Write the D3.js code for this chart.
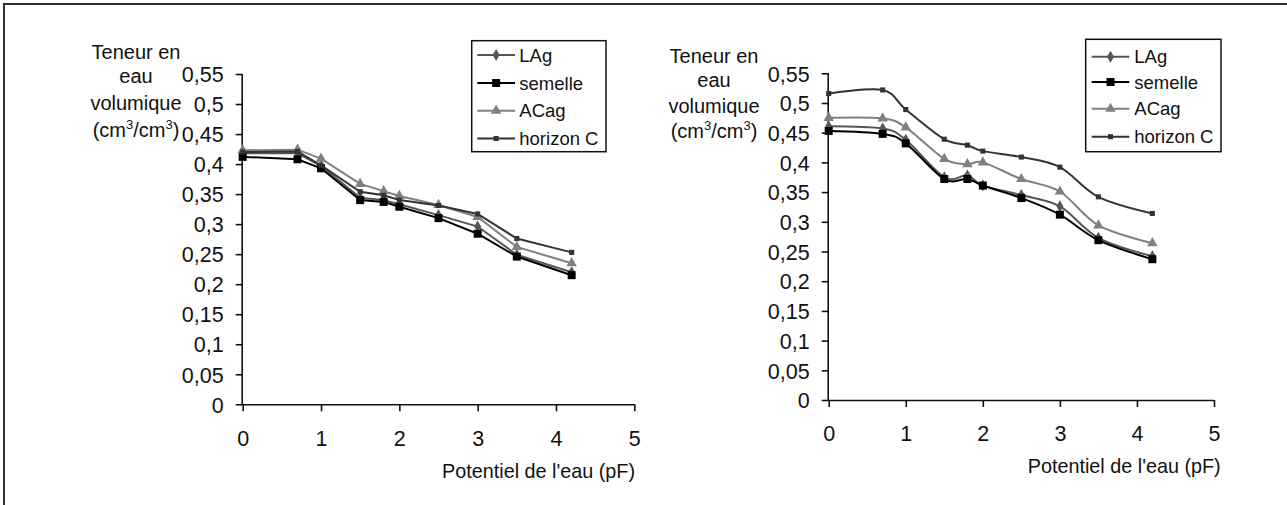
<!DOCTYPE html>
<html>
<head>
<meta charset="utf-8">
<script src="https://cdn.jsdelivr.net/npm/d3@7"></script>
<style>
  html, body { margin: 0; padding: 0; background: #fff; }
  svg { display: block; font-family: "Liberation Sans", Arial, sans-serif; }
</style>
</head>
<body>
<svg id="chart" width="1287" height="505"></svg>
<script>
// ---------- DATA ----------
const pF = [0, 0.7, 1, 1.5, 1.8, 2, 2.5, 3, 3.5, 4.2];
const seriesNames = ["LAg", "semelle", "ACag", "horizon C"];

// Left panel
const leftLAg      = [0.418, 0.418, 0.397, 0.344, 0.340, 0.333, 0.315, 0.296, 0.249, 0.220];
const leftSemelle  = [0.412, 0.408, 0.393, 0.340, 0.337, 0.329, 0.310, 0.284, 0.246, 0.215];
const leftACag     = [0.423, 0.424, 0.409, 0.367, 0.355, 0.347, 0.332, 0.312, 0.262, 0.235];
const leftHorizonC = [0.420, 0.421, 0.398, 0.354, 0.348, 0.340, 0.331, 0.317, 0.276, 0.253];

// Right panel
const rightLAg      = [0.461, 0.457, 0.438, 0.375, 0.378, 0.361, 0.345, 0.326, 0.273, 0.242];
const rightSemelle  = [0.453, 0.448, 0.432, 0.372, 0.372, 0.361, 0.340, 0.312, 0.269, 0.237];
const rightACag     = [0.475, 0.474, 0.459, 0.406, 0.397, 0.400, 0.372, 0.351, 0.294, 0.264];
const rightHorizonC = [0.516, 0.522, 0.489, 0.439, 0.429, 0.419, 0.409, 0.392, 0.342, 0.314];

const yTicks = [0, 0.05, 0.1, 0.15, 0.2, 0.25, 0.3, 0.35, 0.4, 0.45, 0.5, 0.55];
const yTickLabels = ["0", "0,05", "0,1", "0,15", "0,2", "0,25", "0,3", "0,35", "0,4", "0,45", "0,5", "0,55"];
const xTicks = [0, 1, 2, 3, 4, 5];
const xTickLabels = ["0", "1", "2", "3", "4", "5"];
const xTitle = "Potentiel de l'eau (pF)";

// ---------- STYLE ----------
const styles = {
  "LAg":       { color: "#555555", marker: "diamond",  size: 42 },
  "semelle":   { color: "#000000", marker: "square",   size: 64 },
  "ACag":      { color: "#808080", marker: "triangle", size: 48 },
  "horizon C": { color: "#333333", marker: "small",    size: 26 }
};
const symbolType = { diamond: d3.symbolDiamond, square: d3.symbolSquare, triangle: d3.symbolTriangle, small: d3.symbolSquare };

const svg = d3.select("#chart");

// outer frame (only top and left edges visible in the view)
svg.append("rect").attr("x", 4).attr("y", 4).attr("width", 1400).attr("height", 600)
  .attr("fill", "none").attr("stroke", "#333").attr("stroke-width", 2);

function drawPanel(cfg) {
  const x = d3.scaleLinear().domain([0, 5]).range([cfg.x0, cfg.x5]);
  const y = d3.scaleLinear().domain([0, 0.55]).range([cfg.y0, cfg.y55]);
  const g = svg.append("g");

  // Y axis
  const yAxis = d3.axisLeft(y).tickValues(yTicks).tickSize(7).tickPadding(12)
    .tickFormat((d, i) => yTickLabels[i]);
  const ya = g.append("g").attr("transform", `translate(${cfg.x0},0)`).call(yAxis);
  ya.select(".domain").attr("stroke", "#111").attr("stroke-width", 1.6).attr("d", `M-0.5,${cfg.y0}V${cfg.y55}`);
  ya.selectAll(".tick line").attr("stroke", "#111").attr("stroke-width", 1.6);
  ya.selectAll(".tick text").attr("font-size", 21.5).attr("fill", "#111")
    .attr("font-family", "'Liberation Sans', Arial, sans-serif").attr("dy", "0.36em");

  // X axis
  const xAxis = d3.axisBottom(x).tickValues(xTicks).tickSize(7).tickPadding(0)
    .tickFormat((d, i) => xTickLabels[i]);
  const xa = g.append("g").attr("transform", `translate(0,${cfg.y0})`).call(xAxis);
  xa.select(".domain").attr("stroke", "#111").attr("stroke-width", 1.6).attr("d", `M${cfg.x0},0.5H${cfg.x5}`);
  xa.selectAll(".tick line").attr("stroke", "#111").attr("stroke-width", 1.6);
  xa.selectAll(".tick text").attr("font-size", 21.5).attr("fill", "#111")
    .attr("font-family", "'Liberation Sans', Arial, sans-serif")
    .attr("y", cfg.xLabelBase).attr("dy", 0);

  // X title
  g.append("text").attr("x", cfg.xTitleRight).attr("y", cfg.xTitleBase)
    .attr("text-anchor", "end").attr("font-size", 19.8).attr("fill", "#111").text(xTitle);

  // Y title (multi-line)
  const yt = g.append("text").attr("text-anchor", "middle").attr("font-size", 20).attr("fill", "#111");
  const lines = ["Teneur en", "eau", "volumique"];
  lines.forEach((t, i) => {
    yt.append("tspan").attr("x", cfg.yTitleX).attr("y", cfg.yTitleBases[i]).text(t);
  });
  const last = g.append("text").attr("text-anchor", "middle").attr("font-size", 20).attr("fill", "#111")
    .attr("x", cfg.yTitleX).attr("y", cfg.yTitleBases[3]);
  last.append("tspan").text("(cm");
  last.append("tspan").attr("font-size", 13).attr("dy", -8).text("3");
  last.append("tspan").attr("dy", 8).text("/cm");
  last.append("tspan").attr("font-size", 13).attr("dy", -8).text("3");
  last.append("tspan").attr("dy", 8).text(")");

  // Series
  const line = d3.line().x(d => x(d[0])).y(d => y(d[1])).curve(cfg.curve);
  const order = ["LAg", "semelle", "ACag", "horizon C"];
  order.forEach(name => {
    const vals = cfg.data[name];
    const pts = pF.map((p, i) => [p, vals[i]]);
    const st = styles[name];
    g.append("path").datum(pts).attr("d", line).attr("fill", "none")
      .attr("stroke", st.color).attr("stroke-width", 2);
    g.selectAll(null).data(pts).enter().append("path")
      .attr("transform", d => `translate(${x(d[0])},${y(d[1])})`)
      .attr("d", d3.symbol().type(symbolType[st.marker]).size(st.size))
      .attr("fill", st.color);
  });

  // Legend
  const L = cfg.legend;
  g.append("rect").attr("x", L.x).attr("y", L.y).attr("width", L.w).attr("height", L.h)
    .attr("fill", "#fff").attr("stroke", "#111").attr("stroke-width", 1.5);
  order.forEach((name, i) => {
    const st = styles[name];
    const cy = L.rows[i];
    g.append("line").attr("x1", L.lx1).attr("x2", L.lx2).attr("y1", cy).attr("y2", cy)
      .attr("stroke", st.color).attr("stroke-width", 2);
    g.append("path").attr("transform", `translate(${(L.lx1 + L.lx2) / 2},${cy})`)
      .attr("d", d3.symbol().type(symbolType[st.marker]).size(st.size))
      .attr("fill", st.color);
    g.append("text").attr("x", L.tx).attr("y", cy).attr("dy", "0.36em")
      .attr("font-size", 18.5).attr("fill", "#111").text(name);
  });
}

drawPanel({
  x0: 242.7, x5: 634.3, y0: 404.3, y55: 74,
  xLabelBase: 42, xTitleRight: 635, xTitleBase: 477.5,
  yTitleX: 136, yTitleBases: [59.3, 83.3, 110, 136.7],
  curve: d3.curveLinear,
  data: { "LAg": leftLAg, "semelle": leftSemelle, "ACag": leftACag, "horizon C": leftHorizonC },
  legend: { x: 471.7, y: 40.7, w: 134.3, h: 111, rows: [55, 83, 110.7, 138.5], lx1: 477.3, lx2: 515, tx: 519.3 }
});

drawPanel({
  x0: 828.7, x5: 1214, y0: 400, y55: 73.3,
  xLabelBase: 41, xTitleRight: 1220.7, xTitleBase: 472.7,
  yTitleX: 714, yTitleBases: [62.7, 87.3, 112.7, 138.3],
  curve: d3.curveCardinal.tension(0),
  data: { "LAg": rightLAg, "semelle": rightSemelle, "ACag": rightACag, "horizon C": rightHorizonC },
  legend: { x: 1085.7, y: 39.3, w: 135.3, h: 112.4, rows: [56.7, 82, 108.8, 136.7], lx1: 1091.7, lx2: 1129.3, tx: 1134.3 }
});
</script>
</body>
</html>
